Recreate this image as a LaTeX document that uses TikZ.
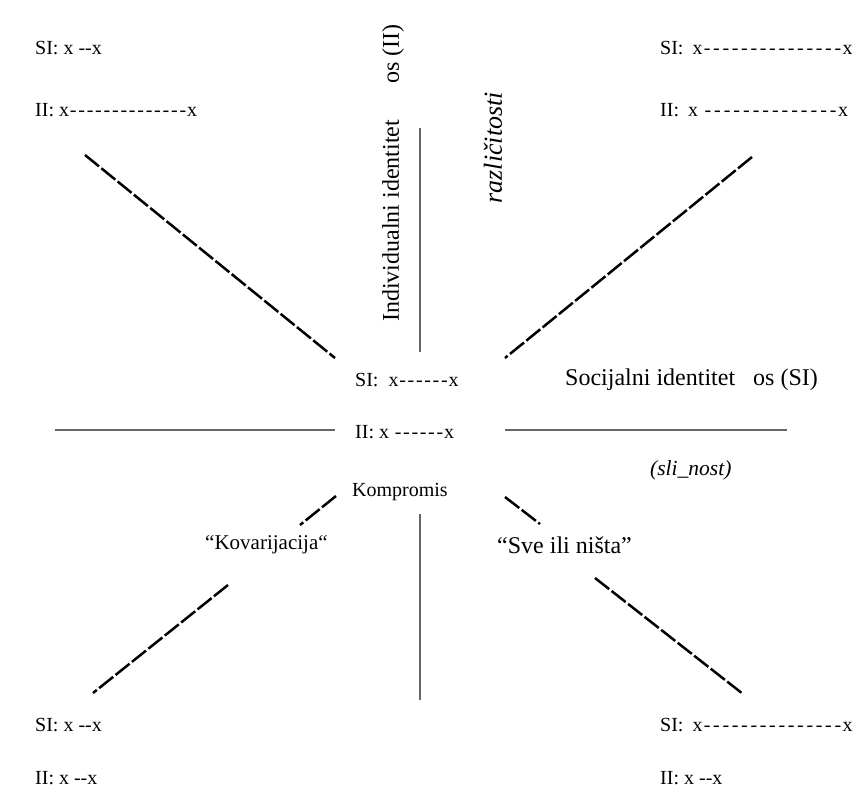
\documentclass[tikz,border=0pt]{standalone}
\usepackage{fontspec}
\setmainfont{Liberation Serif}[Ligatures=TeXOff]
\newcommand\hyph[2]{\hbox to #2{\foreach \i in {1,...,#1}{\hss-\hss}}}
\begin{document}
\begin{tikzpicture}[x=1pt,y=-1pt,
  lbl/.style={anchor=west,inner sep=0pt,font=\fontsize{20}{23}\selectfont},
  big/.style={font=\fontsize{24}{27}\selectfont},
  vlbl/.style={inner sep=0pt,rotate=90},
  axis/.style={draw=black!60,line width=1.8pt},
  dline/.style={draw=black,line width=2.5pt,dash pattern=on 18pt off 3pt}]
\useasboundingbox (0,0) rectangle (858,794);
% corner labels
\node[lbl] (tlsi) at (35,48) {SI: x -{}-x};
\node[lbl] (tlii) at (35,110) {II: x\hyph{14}{118pt}x};
\node[lbl] (trsi) at (660,48) {SI:\hspace{9pt}x\hyph{15}{140pt}x};
\node[lbl] (trii) at (660,110) {II:\hspace{9pt}x\ \hyph{14}{135pt}x};
\node[lbl] (blsi) at (35,725) {SI: x -{}-x};
\node[lbl] (blii) at (35,778) {II: x -{}-x};
\node[lbl] (brsi) at (660,725) {SI:\hspace{9pt}x\hyph{15}{140pt}x};
\node[lbl] (brii) at (660,778) {II: x -{}-x};
% centre labels
\node[lbl] (csi) at (355,380) {SI:\hspace{10pt}x\hyph{6}{50pt}x};
\node[lbl] (cii) at (355,432) {II: x\ \hyph{6}{50pt}x};
\node[lbl] (komp) at (352,492) {Kompromis};
\node[lbl,big] (soc) at (565,380) {Socijalni identitet\hspace{18pt}os (SI)};
\node[lbl,font=\fontsize{21.5}{24}\selectfont\itshape] (sli) at (650,470) {(sli\_nost)};
\node[lbl,font=\fontsize{21}{24}\selectfont] (kov) at (205,545) {“Kovarijacija“};
\node[lbl,font=\fontsize{24}{27}\selectfont] (sve) at (497,545) {“Sve ili ništa”};
% vertical labels
\node[vlbl,big,anchor=west] (ind) at (393,322) {Individualni identitet\hspace{36pt}os (II)};
\node[vlbl,anchor=east,font=\fontsize{26}{29}\selectfont\itshape] (raz) at (493,92) {različitosti};
% axes
\coordinate (vt1) at (420,128); \coordinate (vt2) at (420,352);
\coordinate (vb1) at (420,514); \coordinate (vb2) at (420,700);
\coordinate (hl1) at (55,430); \coordinate (hl2) at (335,430);
\coordinate (hr1) at (505,430); \coordinate (hr2) at (787,430);
\draw[axis] (vt1) -- (vt2);
\draw[axis] (vb1) -- (vb2);
\draw[axis] (hl1) -- (hl2);
\draw[axis] (hr1) -- (hr2);
% diagonals
\coordinate (d1a) at (85,155); \coordinate (d1b) at (335,358);
\coordinate (d2a) at (752,157); \coordinate (d2b) at (505,358);
\coordinate (d3a) at (336,496); \coordinate (d3b) at (300,525);
\coordinate (d3c) at (228,585); \coordinate (d3d) at (93,693);
\coordinate (d4a) at (505,497); \coordinate (d4b) at (540,524);
\coordinate (d4c) at (595,578); \coordinate (d4d) at (743,694);
\draw[dline] (d1a) -- (d1b);
\draw[dline] (d2a) -- (d2b);
\draw[dline] (d3a) -- (d3b);
\draw[dline] (d3c) -- (d3d);
\draw[dline] (d4a) -- (d4b);
\draw[dline] (d4c) -- (d4d);
\end{tikzpicture}
\end{document}
